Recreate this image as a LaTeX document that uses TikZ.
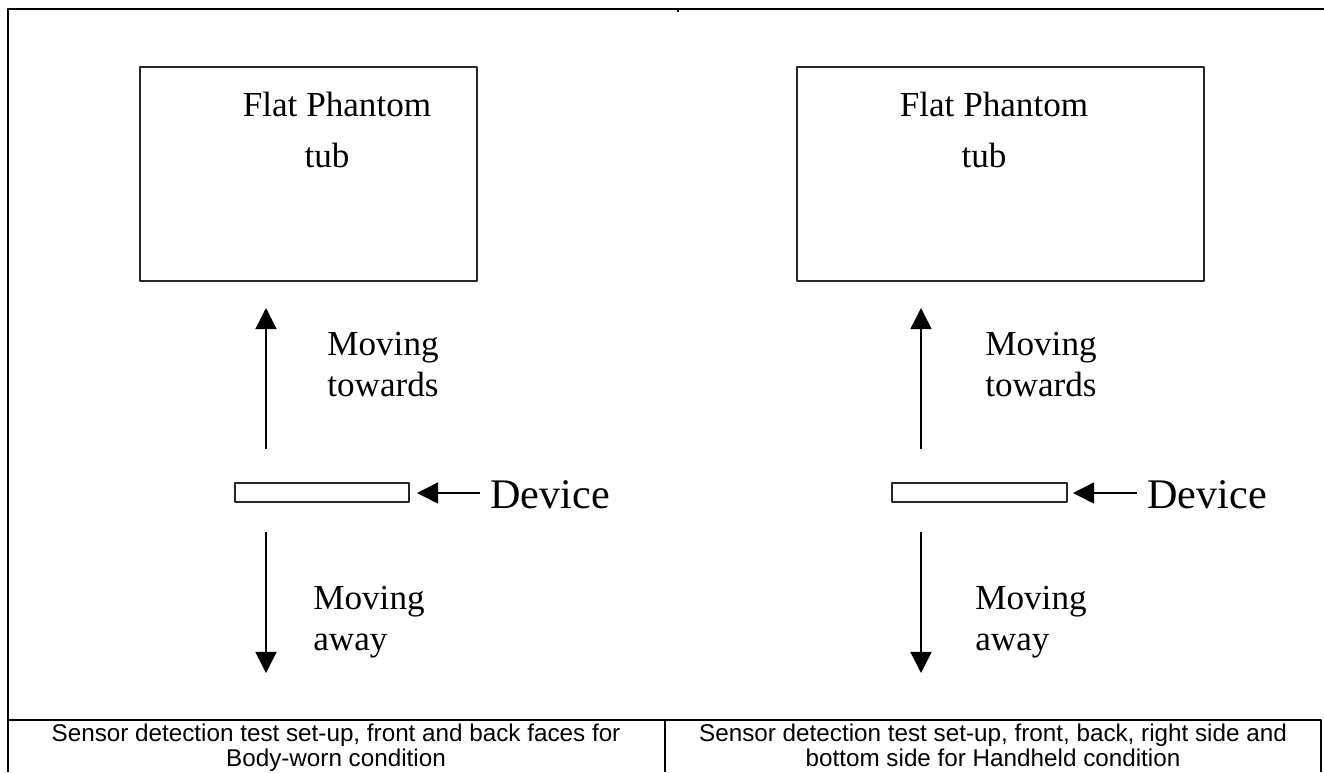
\documentclass[tikz,border=0pt]{standalone}
\usepackage{fontspec}
\setmainfont{Liberation Serif}
\newfontfamily\capfont{Liberation Sans}
\usetikzlibrary{arrows.meta}
\tikzset{
  frame/.style={line width=.85pt},
  tubbox/.style={draw=black!85, line width=1pt},
  devbox/.style={draw=black!85, line width=.9pt},
  move/.style={->, line width=.85pt},
  tubtext/.style={inner sep=0, anchor=north, align=center, font=\fontsize{20}{29}\selectfont},
  movetext/.style={inner sep=0, anchor=north west, align=left, font=\fontsize{20}{23}\selectfont},
  devtext/.style={inner sep=0, anchor=base west, font=\fontsize{24}{28}\selectfont},
  captext/.style={inner sep=0, anchor=north, align=center, font=\capfont\fontsize{13.8}{12.5}\selectfont}
}
\begin{document}
\begin{tikzpicture}[x=.02cm, y=-.02cm, line join=round, >={Triangle[length=12pt,width=12pt]}]
	\useasboundingbox (0,0) rectangle (1324,772);
	% table frame
	\draw[frame](1324,9)--(8,9)--(8,772);
	\draw[frame](678,9)--(678,12);
	\draw[frame](8,720)--(1321,720)--(1321,772);
	\draw[frame](665,720)--(665,772);
	% left set-up
	\draw[tubbox](140,67)rectangle(477,281);
	\node[tubtext] (tubL) at (337,92) {Flat Phantom\\tub\hspace*{.4cm}};
	\draw[devbox](235,483)rectangle(409,502);
	\coordinate (devL) at (417,493);
	\node[devtext] (devtxtL) at (490,508) {Device};
	\draw[move]([xshift=-.2cm]devtxtL.west|-devL)--(devL);
	\coordinate (upL0) at (266,449); \coordinate (upL1) at (266,308);
	\coordinate (dnL0) at (266,532); \coordinate (dnL1) at (266,673);
	\draw[move](upL0)--(upL1);
	\draw[move](dnL0)--(dnL1);
	\node[movetext] (towL) at (327,332) {Moving\\towards};
	\node[movetext] (awayL) at (313,586) {Moving\\away};
	% right set-up
	\draw[tubbox](797,67)rectangle(1204,281);
	\node[tubtext] (tubR) at (994,92) {Flat Phantom\\tub\hspace*{.4cm}};
	\draw[devbox](892,483)rectangle(1067,502);
	\coordinate (devR) at (1073,493);
	\node[devtext] (devtxtR) at (1147,508) {Device};
	\draw[move]([xshift=-.2cm]devtxtR.west|-devR)--(devR);
	\coordinate (upR0) at (921,449); \coordinate (upR1) at (921,308);
	\coordinate (dnR0) at (921,532); \coordinate (dnR1) at (921,673);
	\draw[move](upR0)--(upR1);
	\draw[move](dnR0)--(dnR1);
	\node[movetext] (towR) at (985,332) {Moving\\towards};
	\node[movetext] (awayR) at (975,586) {Moving\\away};
	% captions
	\node[captext] (capL) at (336,724) {Sensor detection test set-up, front and back faces for\\Body-worn condition};
	\node[captext] (capR) at (993,724) {Sensor detection test set-up, front, back, right side and\\bottom side for Handheld condition};
\end{tikzpicture}
\end{document}
